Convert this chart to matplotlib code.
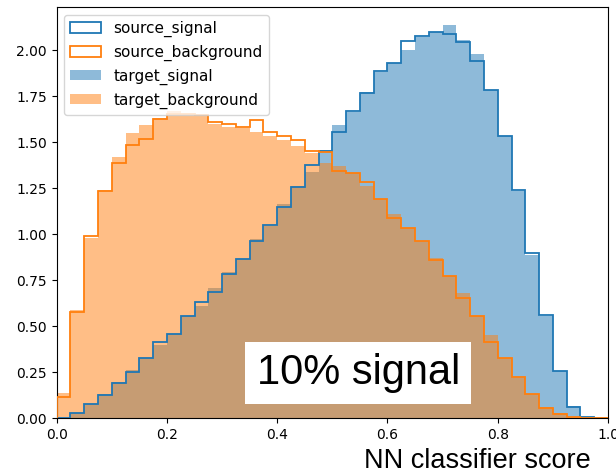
import numpy as np
import matplotlib
matplotlib.use('Agg')
import matplotlib.pyplot as plt

# 40 bins on [0, 1], density heights
bin_edges = np.linspace(0.0, 1.0, 41)

source_signal = [0.0, 0.031, 0.077, 0.127, 0.194, 0.25, 0.325, 0.412, 0.459, 0.557,
                 0.632, 0.684, 0.782, 0.866, 0.964, 1.05, 1.149, 1.256, 1.376, 1.452,
                 1.556, 1.672, 1.77, 1.888, 1.932, 2.048, 2.08, 2.098, 2.088, 2.046,
                 1.94, 1.783, 1.532, 1.243, 0.899, 0.563, 0.258, 0.063, 0.009, 0.0]

source_background = [0.118, 0.578, 0.993, 1.236, 1.389, 1.485, 1.52, 1.627, 1.655, 1.655,
                     1.647, 1.611, 1.597, 1.583, 1.621, 1.558, 1.534, 1.51, 1.454, 1.447,
                     1.343, 1.331, 1.284, 1.194, 1.089, 1.033, 0.962, 0.86, 0.775, 0.654,
                     0.557, 0.417, 0.33, 0.222, 0.131, 0.058, 0.022, 0.009, 0.0, 0.0]

target_signal = [0.0, 0.03, 0.08, 0.13, 0.195, 0.262, 0.33, 0.399, 0.46, 0.555,
                 0.612, 0.71, 0.795, 0.866, 0.975, 1.047, 1.167, 1.265, 1.338, 1.46,
                 1.592, 1.662, 1.775, 1.88, 1.93, 2.004, 2.07, 2.097, 2.135, 2.058,
                 1.979, 1.783, 1.534, 1.236, 0.885, 0.557, 0.256, 0.065, 0.005, 0.0]

target_background = [0.14, 0.59, 0.98, 1.24, 1.42, 1.552, 1.594, 1.634, 1.672, 1.652,
                     1.645, 1.6, 1.585, 1.576, 1.556, 1.532, 1.51, 1.482, 1.44, 1.389,
                     1.37, 1.331, 1.262, 1.194, 1.113, 1.035, 0.962, 0.871, 0.775, 0.681,
                     0.557, 0.454, 0.327, 0.218, 0.131, 0.063, 0.03, 0.005, 0.0, 0.0]

centers = (bin_edges[:-1] + bin_edges[1:]) / 2

fig = plt.figure(figsize=(6.16, 4.70), dpi=100)
ax = fig.add_axes([0.092, 0.11, 0.895, 0.875])

# Quell-Verteilungen als Stufenlinien, Ziel-Verteilungen gefüllt
ax.hist(centers, bins=bin_edges, weights=source_signal, histtype='step',
        color='C0', linewidth=1.3, label='source_signal', zorder=3)
ax.hist(centers, bins=bin_edges, weights=source_background, histtype='step',
        color='C1', linewidth=1.3, label='source_background', zorder=3)
ax.hist(centers, bins=bin_edges, weights=target_signal, color='C0',
        alpha=0.5, label='target_signal')
ax.hist(centers, bins=bin_edges, weights=target_background, color='C1',
        alpha=0.5, label='target_background')

ax.set_xlim(0, 1)
ax.set_ylim(0, 2.235)
ax.set_yticks(np.arange(0, 2.01, 0.25))
ax.tick_params(labelsize=10)
ax.legend(loc='upper left', fontsize=11)

ax.text(0.547, 0.245, '10% signal', fontsize=30, family='Liberation Sans',
        ha='center', va='center',
        bbox=dict(facecolor='white', edgecolor='none', pad=8), zorder=5)

fig.text(477 / 616, 0.004, 'NN classifier score', fontsize=19.5,
         family='Liberation Sans', ha='center', va='baseline')

fig.savefig('out.png', dpi=100)
